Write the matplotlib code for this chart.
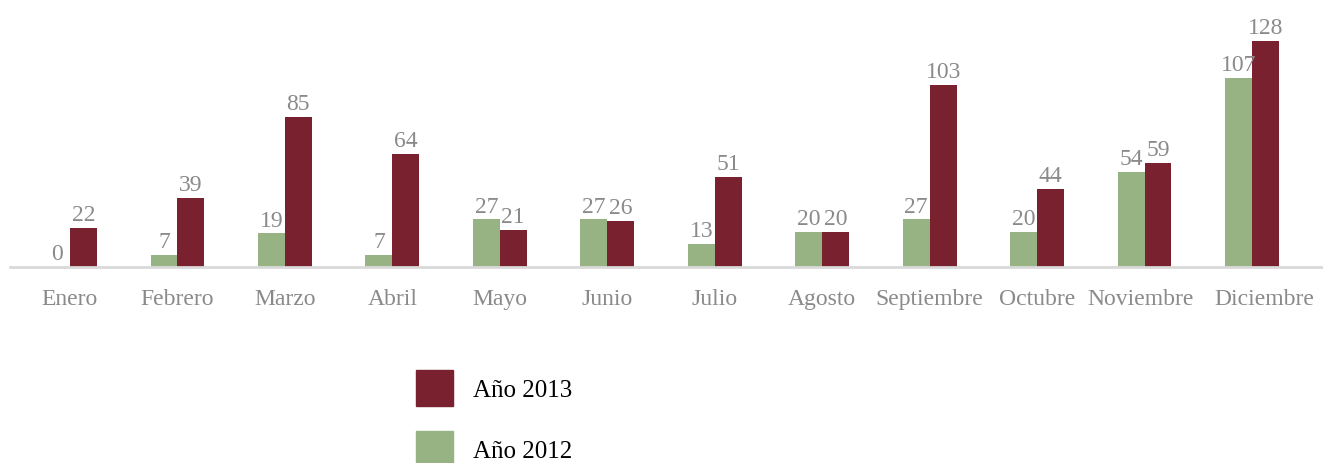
import matplotlib.pyplot as plt
import matplotlib.transforms as mtransforms
import numpy as np
from matplotlib.patches import Rectangle

months = ['Enero', 'Febrero', 'Marzo', 'Abril', 'Mayo', 'Junio', 'Julio',
          'Agosto', 'Septiembre', 'Octubre', 'Noviembre', 'Diciembre']
y2012 = [0, 7, 19, 7, 27, 27, 13, 20, 27, 20, 54, 107]
y2013 = [22, 39, 85, 64, 21, 26, 51, 20, 103, 44, 59, 128]

red = '#7a212f'
green = '#97b384'
grey = '#8a8a8a'

plt.rcParams['font.family'] = ['Liberation Serif', 'DejaVu Serif']

fig = plt.figure(figsize=(13.23, 4.64), dpi=100)
ax = fig.add_axes([10 / 1323, 196 / 464, 1313 / 1323, 258 / 464])

x = np.arange(len(months))
w = 0.25
b12 = ax.bar(x - w / 2, y2012, w, color=green)
b13 = ax.bar(x + w / 2, y2013, w, color=red)

for bars, vals in ((b12, y2012), (b13, y2013)):
    for r, v in zip(bars, vals):
        ax.annotate(str(v), (r.get_x() + r.get_width() / 2, v),
                    xytext=(0, 2), textcoords='offset points',
                    ha='center', va='bottom', fontsize=17, color=grey)

ax.set_xlim(-0.558, 11.66)
ax.set_ylim(0, 146)
ax.set_xticks(x)
ax.set_xticklabels(months, fontsize=17, color=grey)
ax.tick_params(axis='x', length=0, pad=15)
ax.set_yticks([])
for s in ('top', 'right', 'left'):
    ax.spines[s].set_visible(False)
ax.spines['bottom'].set_color('#d9d9d9')
ax.spines['bottom'].set_linewidth(2)

# the last labels are nudged apart so they do not touch
labels = ax.get_xticklabels()
for lab, dx in ((labels[-2], -4), (labels[-1], 12)):
    lab.set_transform(lab.get_transform() +
                      mtransforms.ScaledTranslation(dx / 100, 0, fig.dpi_scale_trans))

handles = [Rectangle((0, 0), 1, 1, color=red), Rectangle((0, 0), 1, 1, color=green)]
fig.legend(handles, ['Año 2013', 'Año 2012'], loc='upper left',
           bbox_to_anchor=(416 / 1323, 93 / 464), frameon=False,
           fontsize=18, handlelength=1.48, handleheight=1.85,
           labelspacing=0.99, handletextpad=0.8,
           borderpad=0, borderaxespad=0)

fig.savefig('out.png', dpi=100)
